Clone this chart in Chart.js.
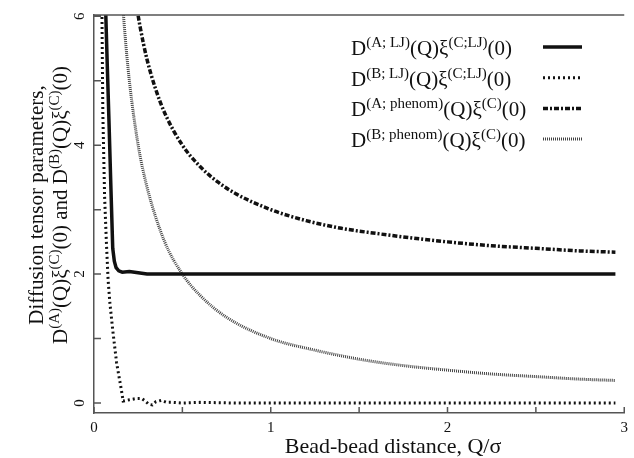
<!DOCTYPE html>
<html>
<head>
<meta charset="utf-8">
<script src="https://cdn.jsdelivr.net/npm/chart.js@4.4.1/dist/chart.umd.min.js"></script>
<style>
  html, body { margin: 0; padding: 0; background: #fff; }
  #wrap { width: 634px; height: 458px; position: relative; }
</style>
</head>
<body>
<div id="wrap"><canvas id="chart"></canvas></div>
<script>
// values (Q/sigma on x)
const qALJ = [0.064, 0.067, 0.075, 0.085, 0.095, 0.106, 0.115, 0.125, 0.14, 0.16, 0.2, 0.25, 0.3, 0.5, 1, 1.5, 2, 2.5, 2.95];
const dALJ = [6.3, 6.0, 5.25, 4.35, 3.4, 2.4, 2.2, 2.1, 2.05, 2.03, 2.04, 2.02, 2.0, 2.0, 2.0, 2.0, 2.0, 2.0, 2.0];

const qBLJ = [0.043, 0.045, 0.05, 0.06, 0.07, 0.08, 0.09, 0.106, 0.128, 0.155, 0.165, 0.2, 0.24, 0.27, 0.29, 0.31, 0.33, 0.35, 0.38, 0.41, 0.45, 0.5, 0.6, 0.8, 1, 1.5, 2, 2.5, 2.95];
const dBLJ = [6.3, 6.0, 4.5, 3.2, 2.5, 1.9, 1.55, 1.13, 0.62, 0.2, 0.03, 0.05, 0.07, 0.07, 0.03, -0.02, -0.03, 0.02, 0.04, 0.01, 0.01, 0.0, 0.01, 0.0, 0.0, 0.0, 0.0, 0.0, 0.0];

const qAph = [0.23, 0.26, 0.3, 0.35, 0.4, 0.5, 0.6, 0.7, 0.8, 1.0, 1.2, 1.4, 1.6, 1.8, 2.0, 2.25, 2.5, 2.75, 2.95];
const dAph = [6.35, 5.85, 5.33, 4.86, 4.5, 4.0, 3.67, 3.43, 3.25, 3.0, 2.83, 2.71, 2.63, 2.56, 2.5, 2.44, 2.4, 2.36, 2.34];

const qBph = [0.15, 0.17, 0.2, 0.25, 0.3, 0.4, 0.5, 0.6, 0.75, 1.0, 1.25, 1.5, 1.75, 2.0, 2.25, 2.5, 2.75, 2.95];
const dBph = [6.7, 5.9, 5.0, 4.0, 3.35, 2.5, 2.0, 1.67, 1.33, 1.0, 0.82, 0.68, 0.58, 0.51, 0.45, 0.41, 0.37, 0.35];

const xTickLabels = [0, 1, 2, 3];
const yTickLabels = [0, 2, 4, 6];

// rich text pieces: [text, isSuperscript]
const legendLabels = [
  [['D', 0], ['(A; LJ)', 1], ['(Q)ξ', 0], ['(C;LJ)', 1], ['(0)', 0]],
  [['D', 0], ['(B; LJ)', 1], ['(Q)ξ', 0], ['(C;LJ)', 1], ['(0)', 0]],
  [['D', 0], ['(A; phenom)', 1], ['(Q)ξ', 0], ['(C)', 1], ['(0)', 0]],
  [['D', 0], ['(B; phenom)', 1], ['(Q)ξ', 0], ['(C)', 1], ['(0)', 0]],
];
const yTitle1 = [['Diffusion tensor parameters,', 0]];
const yTitle2 = [['D', 0], ['(A)', 1], ['(Q)ξ', 0], ['(C)', 1], ['(0) and D', 0], ['(B)', 1], ['(Q)ξ', 0], ['(C)', 1], ['(0)', 0]];
const xTitle = 'Bead-bead distance, Q/σ';

const SERIF = '"Liberation Serif", "DejaVu Serif", serif';

function pts(qs, ds) {
  return qs.map((q, i) => ({ x: q, y: ds[i] }));
}

const styles = [
  { color: '#111', width: 3.5, dash: [] },
  { color: '#111', width: 3, dash: [2, 3] },
  { color: '#111', width: 3.5, dash: [5, 2, 2, 2] },
  { color: '#444', width: 3, dash: [1, 1] },
];

function richWidth(ctx, parts, size, supSize) {
  let w = 0;
  parts.forEach(([t, sup]) => {
    ctx.font = `${sup ? supSize : size}px ${SERIF}`;
    w += ctx.measureText(t).width;
  });
  return w;
}

function drawRich(ctx, parts, x, y, size, supSize, rise) {
  let cx = x;
  ctx.textAlign = 'left';
  ctx.textBaseline = 'alphabetic';
  parts.forEach(([t, sup]) => {
    ctx.font = `${sup ? supSize : size}px ${SERIF}`;
    ctx.fillText(t, cx, sup ? y - rise : y);
    cx += ctx.measureText(t).width;
  });
}

const decorPlugin = {
  id: 'decor',
  afterDraw(chart) {
    const { ctx, chartArea: a, scales } = chart;
    ctx.save();
    // top frame line and inward tick marks
    ctx.strokeStyle = '#555';
    ctx.lineWidth = 1.5;
    ctx.beginPath();
    ctx.moveTo(a.left, a.top);
    ctx.lineTo(a.right, a.top);
    scales.x.ticks.forEach((t) => {
      const px = scales.x.getPixelForValue(t.value);
      ctx.moveTo(px, a.bottom);
      ctx.lineTo(px, a.bottom - 6);
    });
    scales.y.ticks.forEach((t) => {
      const py = scales.y.getPixelForValue(t.value);
      ctx.moveTo(a.left, py);
      ctx.lineTo(a.left + 7, py);
    });
    ctx.stroke();

    ctx.fillStyle = '#111';
    // y tick labels, rotated like the original
    ctx.font = `15px ${SERIF}`;
    scales.y.ticks.forEach((t) => {
      if (!yTickLabels.includes(t.value)) return;
      const py = scales.y.getPixelForValue(t.value);
      ctx.save();
      ctx.translate(a.left - 14, py);
      ctx.rotate(-Math.PI / 2);
      ctx.textAlign = 'center';
      ctx.textBaseline = 'middle';
      ctx.fillText(String(t.value), 0, 0);
      ctx.restore();
    });

    // legend
    const lx = a.left + 257;
    legendLabels.forEach((parts, i) => {
      const by = a.top + 40 + i * 30.7;
      drawRich(ctx, parts, lx, by, 21, 15, 8);
      const st = styles[i];
      ctx.strokeStyle = st.color;
      ctx.lineWidth = st.width;
      ctx.setLineDash(st.dash);
      ctx.beginPath();
      ctx.moveTo(a.left + 449, by - 8);
      ctx.lineTo(a.left + 488, by - 8);
      ctx.stroke();
      ctx.setLineDash([]);
    });

    // x title
    ctx.font = `22px ${SERIF}`;
    ctx.textAlign = 'center';
    ctx.textBaseline = 'alphabetic';
    ctx.fillText(xTitle, 393, 453);

    // y title (two lines, rotated)
    const yc = 205;
    [[yTitle1, 43], [yTitle2, 67]].forEach(([parts, bx]) => {
      const w = richWidth(ctx, parts, 21, 15);
      ctx.save();
      ctx.translate(bx, yc);
      ctx.rotate(-Math.PI / 2);
      drawRich(ctx, parts, -w / 2, 0, 21, 15, 8);
      ctx.restore();
    });
    ctx.restore();
  },
};

const datasets = [
  pts(qALJ, dALJ), pts(qBLJ, dBLJ), pts(qAph, dAph), pts(qBph, dBph),
].map((data, i) => ({
  data,
  borderColor: styles[i].color,
  borderWidth: styles[i].width,
  borderDash: styles[i].dash,
  pointRadius: 0,
  fill: false,
  tension: i >= 2 ? 0.4 : 0,
  cubicInterpolationMode: i >= 2 ? 'monotone' : 'default',
}));

new Chart(document.getElementById('chart'), {
  type: 'line',
  data: { datasets },
  options: {
    responsive: true,
    maintainAspectRatio: false,
    animation: false,
    events: [],
    layout: { padding: { top: 15, right: 2, left: 0, bottom: 0 } },
    plugins: { legend: { display: false }, tooltip: { enabled: false } },
    scales: {
      x: {
        type: 'linear',
        min: 0,
        max: 3,
        afterFit: (s) => { s.height = 45; },
        grid: { drawOnChartArea: false, drawTicks: false },
        border: { color: '#555', width: 1.5 },
        ticks: {
          stepSize: 0.5,
          padding: 6,
          color: '#111',
          font: { family: SERIF, size: 15 },
          callback: (v) => (xTickLabels.includes(v) ? String(v) : ''),
        },
      },
      y: {
        type: 'linear',
        min: -0.155,
        max: 6.02,
        afterFit: (s) => { s.width = 94; },
        grid: { drawOnChartArea: false, drawTicks: false },
        border: { color: '#555', width: 1.5 },
        ticks: { stepSize: 1, includeBounds: false, display: false },
      },
    },
  },
  plugins: [decorPlugin],
});
</script>
</body>
</html>
